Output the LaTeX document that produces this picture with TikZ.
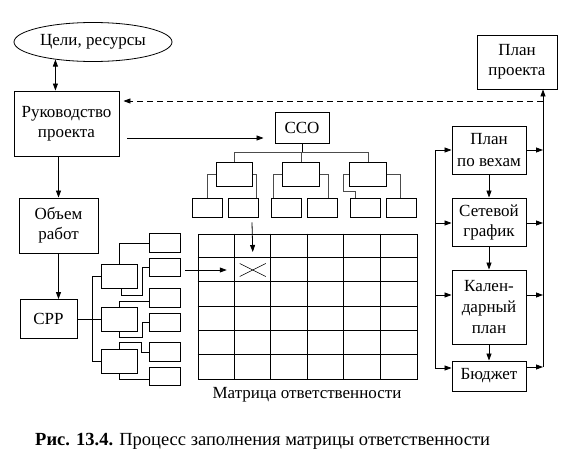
\documentclass[tikz,border=0pt]{standalone}
\usepackage{fontspec}
\setmainfont{Liberation Serif}
\usetikzlibrary{arrows.meta,shapes.geometric,calc}
\begin{document}
\begin{tikzpicture}[x=1pt,y=-1pt,
  every node/.style={font=\fontsize{17}{20}\selectfont, align=center, inner sep=0pt},
  bx/.style={draw, line width=0.9pt},
  lf/.style={draw, line width=0.9pt, minimum width=31pt, minimum height=18.5pt},
  tl/.style={draw, line width=0.9pt, minimum width=30pt, minimum height=19pt},
  mid/.style={draw, line width=0.9pt, minimum width=36.5pt, minimum height=24.5pt},
  con/.style={line width=0.8pt, black!70},
  ln/.style={line width=0.8pt},
  arr/.style={line width=0.8pt, -{Triangle[length=7pt,width=5pt]}},
  darr/.style={line width=0.8pt, {Triangle[length=7pt,width=5pt]}-{Triangle[length=7pt,width=5pt]}}
]
\useasboundingbox (0,0) rectangle (574,463);
% main boxes
\node[draw, ellipse, line width=0.8pt, minimum width=158pt, minimum height=39pt] (goal) at (93,42) {Цели, ресурсы};
\node[bx, minimum width=105pt, minimum height=65pt] (ruk) at (66.5,123.5) {Руководство\\проекта};
\node[bx, minimum width=79pt, minimum height=55pt] (obem) at (58.5,225.5) {Объем\\работ};
\node[bx, minimum width=57pt, minimum height=39pt] (srr) at (48.5,319) {СРР};
\node[bx, minimum width=54pt, minimum height=31pt] (cco) at (302,127.5) {ССО};
\node[bx, minimum width=80pt, minimum height=54pt] (planpr) at (517,62) {План\\проекта};
\node[bx, minimum width=74pt, minimum height=48pt] (vekh) at (489,150) {План\\[2pt]по вехам};
\node[bx, minimum width=74pt, minimum height=48pt] (setev) at (489,222) {Сетевой\\график};
\node[bx, minimum width=74pt, minimum height=74pt] (kalen) at (489,307) {Кален-\\[1pt]дарный\\[1pt]план};
\node[bx, minimum width=74pt, minimum height=30pt] (budg) at (489,376) {Бюджет};

% left column arrows
\draw[darr] (goal.205.8) -- (goal.205.8 |- ruk.north);
\draw[arr] (ruk.south -| obem.north) -- (obem.north);
\draw[arr] (obem.south) -- (obem.south |- srr.north);
\draw[arr] ($(ruk.east)+(8,14.5)$) -- ($(cco.west)+(-11,10.5)$);

% right column
\coordinate (rb) at (543,367);
\coordinate (lb) at (435,368);
\draw[arr] (rb) -- (rb |- planpr.south);
\draw[arr, dashed, dash pattern=on 6pt off 4pt] (rb |- 0,101) -- ($(ruk.east |- 0,101)+(4,0)$);
\draw[arr] (vekh.south) -- (setev.north);
\draw[arr] (setev.south) -- (kalen.north);
\draw[arr] (kalen.south) -- (budg.north);
\draw[ln] (lb) -- (lb |- vekh.west);
\draw[arr] (lb |- vekh.west) -- (vekh.west);
\draw[arr] ($(lb |- setev.west)+(0,1)$) -- ($(setev.west)+(0,1)$);
\draw[arr] ($(lb |- kalen.west)+(0,-12)$) -- ($(kalen.west)+(0,-12)$);
\draw[arr] (lb) -- (lb -| budg.west);
\draw[arr] (vekh.east) -- (vekh.east -| rb);
\draw[arr] ($(setev.east)+(0,1)$) -- ($(setev.east -| rb)+(0,1)$);
\draw[arr] ($(kalen.east)+(0,-12)$) -- ($(kalen.east -| rb)+(0,-12)$);
\draw[arr] (rb -| budg.east) -- (rb);

% top WBS tree
\node[mid] (b1) at (234.5,174.5) {};
\node[mid] (b2) at (301,174.5) {};
\node[mid] (b3) at (368,174.5) {};
\node[tl] (c1) at (207,207.5) {};
\node[tl] (c2) at (243,207.5) {};
\node[tl] (c3) at (286,207.5) {};
\node[tl] (c4) at (322,207.5) {};
\node[tl] (c5) at (365,207.5) {};
\node[tl] (c6) at (401.5,207.5) {};
\draw[ln] (cco.south) -- ++(0,9.5);
\draw[con] (b1.north) -- ++(0,-9) -| (b3.north);
\draw[con] (b2.north) -- ++(0,-9);
\draw[con] (b1.west) -| (c1.north);
\draw[con] (b1.east) -| ($(c2.north east)+(-2,0)$);
\draw[con] (b2.west) -| ($(c3.north west)+(3,0)$);
\draw[con] (b2.east) -| ($(c4.north)+(6,0)$);
\draw[con] (b3.west) -| ++(-6,16.5) -| ($(c5.north west)+(6,0)$);
\draw[con] (b3.east) -| ($(c6.north)+(-1.5,0)$);

% left WBS tree
\node[mid, minimum width=36pt, minimum height=24pt] (d1) at (119,276) {};
\node[mid, minimum width=36pt, minimum height=24pt] (d2) at (119,319) {};
\node[mid, minimum width=36pt, minimum height=24pt] (d3) at (119,361) {};
\node[lf] (e1) at (164.5,243) {};
\node[lf] (e2) at (164.5,267.5) {};
\node[lf] (e3) at (164.5,298) {};
\node[lf] (e4) at (164.5,322.5) {};
\node[lf] (e5) at (164.5,352) {};
\node[lf] (e6) at (164.5,376.5) {};
\draw[ln] (srr.east) -- (d2.west);
\draw[ln] (d1.west) -- ++(-8,0) |- (d3.west);
\draw[ln] (d1.north) |- (e1.west);
\draw[ln] ($(d1.south)+(2,0)$) -- ++(0,7) -| ($(e2.west)+(-6,0)$) -- (e2.west);
\draw[ln] (d2.north) |- ($(e3.west)+(0,3)$);
\draw[ln] (d2.south) -- ++(0,6) -| ($(e4.west)+(-6,0)$) -- (e4.west);
\draw[ln] (d3.north) -- ++(0,-6) -| ($(e5.west)+(-7,0)$) -- (e5.west);
\draw[ln] (d3.south) |- ($(e6.west)+(0,2.5)$);

% matrix
\node[draw, line width=0.9pt, minimum width=219pt, minimum height=145pt] (mtx) at (307.5,306.5) {};
\foreach \i in {1,...,5} {
  \draw[line width=0.9pt] ($(mtx.north west)+(36.5*\i,0)$) -- ($(mtx.south west)+(36.5*\i,0)$);
  \draw[line width=0.9pt] ($(mtx.north west)+(0,24.1667*\i)$) -- ($(mtx.north east)+(0,24.1667*\i)$);
}
\coordinate (xc) at (252.75,270);
\draw[line width=0.6pt] ($(xc)+(-13,-6.5)$) -- ($(xc)+(13,6.5)$);
\draw[line width=0.6pt] ($(xc)+(-13,6.5)$) -- ($(xc)+(13,-6.5)$);
\draw[arr] ($(c2.south)+(9,5)$) -- ($(xc)+(0,-18)$);
\draw[arr] ($(e2.east)+(5,2.5)$) -- ($(xc)+(-26,0)$);
\node (mlab) at (307,395) {Матрица ответственности};

% caption
\node[anchor=west, font=\fontsize{18.5}{20}\selectfont] (cap) at (35,441) {\textbf{Рис. 13.4.} Процесс заполнения матрицы ответственности};
\end{tikzpicture}
\end{document}
